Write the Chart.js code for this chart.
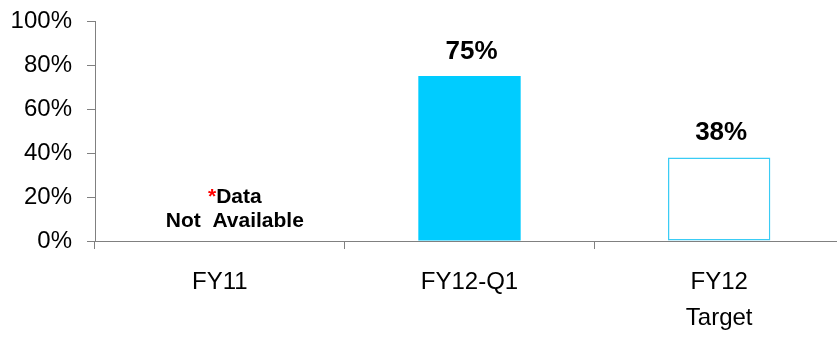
<!DOCTYPE html>
<html>
<head>
<meta charset="utf-8">
<script src="https://cdn.jsdelivr.net/npm/chart.js@4/dist/chart.umd.min.js"></script>
<style>
  html, body { margin: 0; padding: 0; background: #ffffff; overflow: hidden; }
  #wrap { width: 848px; height: 339px; }
</style>
</head>
<body>
<div id="wrap"><canvas id="c" width="848" height="339"></canvas></div>
<script>
// Categories along the x axis (multi-line labels as arrays)
const categories = ['FY11', 'FY12-Q1', ['FY12', 'Target']];
// Percent values per category; FY11 has no data
const values = [null, 75, 38];
// Y axis tick values (percent)
const yTicks = [0, 20, 40, 60, 80, 100];
// Note shown where data is missing
const missingNote = ['Data', 'Not  Available'];

const FONT = "'Liberation Sans', Arial, sans-serif";
const AXIS = '#808080';

// Writes each bar's value above it, and the "not available" note where a value is missing
const valueLabels = {
  id: 'valueLabels',
  afterDatasetsDraw(chart) {
    const ctx = chart.ctx;
    const xs = chart.scales.x, ys = chart.scales.y;
    ctx.save();
    values.forEach((v, i) => {
      const cx = xs.getPixelForValue(i);
      if (v === null) {
        const base = ys.getPixelForValue(0);
        ctx.font = 'bold 21px ' + FONT;
        ctx.textBaseline = 'alphabetic';
        // first line: red asterisk + "Data"
        const star = '*';
        const wStar = ctx.measureText(star).width;
        const wData = ctx.measureText(missingNote[0]).width;
        let x0 = cx + 15 - (wStar + wData) / 2;
        ctx.textAlign = 'left';
        ctx.fillStyle = '#FF0000';
        ctx.fillText(star, x0, base - 38);
        ctx.fillStyle = '#000000';
        ctx.fillText(missingNote[0], x0 + wStar, base - 38);
        ctx.textAlign = 'center';
        ctx.fillText(missingNote[1], cx + 15, base - 14);
        return;
      }
      ctx.font = 'bold 26px ' + FONT;
      ctx.textAlign = 'center';
      ctx.textBaseline = 'alphabetic';
      ctx.fillStyle = '#000000';
      ctx.fillText(v + '%', cx + 2, ys.getPixelForValue(v) - 17);
    });
    ctx.restore();
  }
};

new Chart(document.getElementById('c'), {
  type: 'bar',
  data: {
    labels: categories,
    datasets: [{
      data: values,
      backgroundColor: ['rgba(0,0,0,0)', '#00CCFF', '#FFFFFF'],
      borderColor: ['rgba(0,0,0,0)', '#00CCFF', '#3ACCF5'],
      borderWidth: [0, 0, 1.5],
      borderSkipped: false,
      barPercentage: 0.41,
      categoryPercentage: 1.0
    }]
  },
  options: {
    responsive: false,
    animation: false,
    events: [],
    layout: { padding: { top: 21, right: 4, bottom: 0, left: 0 } },
    plugins: { legend: { display: false }, tooltip: { enabled: false } },
    scales: {
      x: {
        z: 1,
        grid: {
          offset: true,
          drawOnChartArea: false,
          drawTicks: true,
          tickLength: 8,
          color: AXIS,
          lineWidth: 1
        },
        border: { display: true, color: AXIS, width: 1 },
        ticks: {
          color: '#000000',
          padding: 15,
          font: { family: FONT, size: 24, lineHeight: 1.5 },
          maxRotation: 0,
          autoSkip: false
        },
        afterFit(s) { s.height = 98; s.paddingLeft = 0; s.paddingRight = 0; }
      },
      y: {
        z: 1,
        min: 0,
        max: 100,
        afterBuildTicks(s) { s.ticks = yTicks.map(v => ({ value: v })); },
        grid: {
          drawOnChartArea: false,
          drawTicks: true,
          tickLength: 8,
          color: AXIS,
          lineWidth: 1
        },
        border: { display: true, color: AXIS, width: 1 },
        ticks: {
          color: '#000000',
          padding: 15,
          font: { family: FONT, size: 24 },
          callback: v => v + '%'
        },
        afterFit(s) { s.width = 95; s.paddingTop = 0; s.paddingBottom = 0; }
      }
    }
  },
  plugins: [valueLabels]
});
</script>
</body>
</html>
